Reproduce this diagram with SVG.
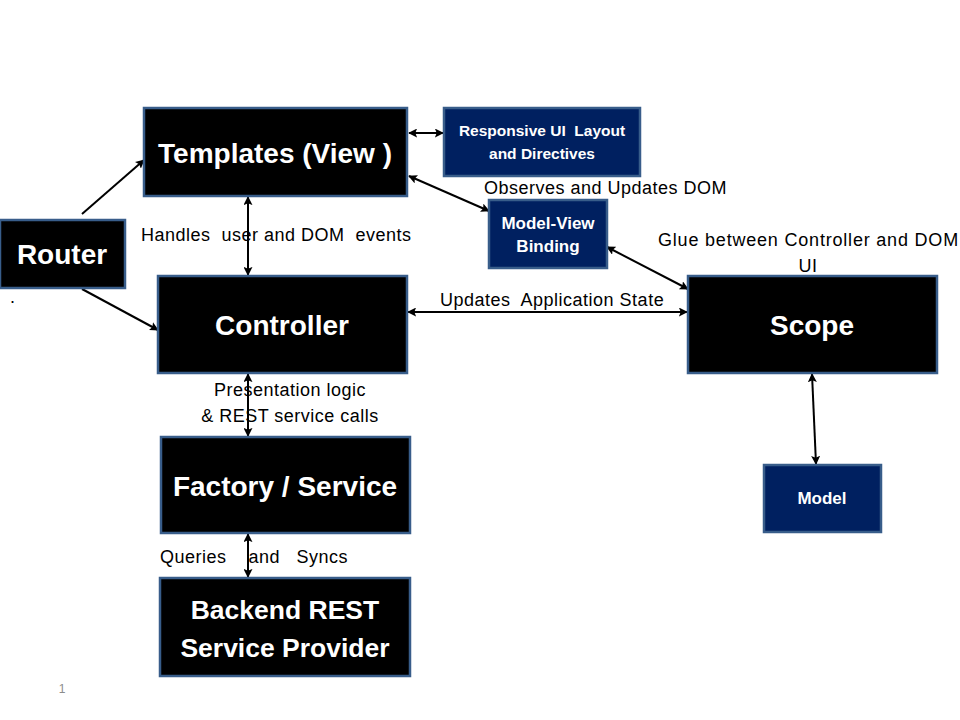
<svg xmlns="http://www.w3.org/2000/svg" width="960" height="720" viewBox="0 0 960 720">
<defs>
<marker id="ah" viewBox="0 0 10 10" refX="9" refY="5" markerWidth="9" markerHeight="9" markerUnits="userSpaceOnUse" orient="auto-start-reverse">
<path d="M0,0 L10,5 L0,10 L2,5 Z" fill="#000"/>
</marker>
<style>
.blk{fill:#000;stroke:#385d8a;stroke-width:2.5}
.nav{fill:#002060;stroke:#385d8a;stroke-width:2.5}
.big{font-family:"Liberation Sans",Arial,sans-serif;font-weight:bold;fill:#fff;text-anchor:middle;font-size:28px}
.sm{font-family:"Liberation Sans",Arial,sans-serif;font-weight:bold;fill:#fff;text-anchor:middle;font-size:17px}
.lbl{font-family:"Liberation Sans",Arial,sans-serif;fill:#000;font-size:18px;white-space:pre;letter-spacing:0.5px}
.con{stroke:#000;stroke-width:2;fill:none;marker-end:url(#ah)}
.dbl{marker-start:url(#ah)}
</style>
</defs>
<rect width="960" height="720" fill="#fff"/>
<g id="connectors">
<line class="con" x1="82" y1="214" x2="144" y2="160"/>
<line class="con" x1="82" y1="289" x2="158" y2="330"/>
<line class="con dbl" x1="248" y1="197" x2="248" y2="275"/>
<line class="con dbl" x1="409" y1="133" x2="443" y2="133"/>
<line class="con dbl" x1="409" y1="176" x2="489" y2="211"/>
<line class="con dbl" x1="607" y1="247" x2="688" y2="289"/>
<line class="con dbl" x1="408" y1="312" x2="687" y2="312"/>
<line class="con dbl" x1="248" y1="374" x2="248" y2="436"/>
<line class="con dbl" x1="248" y1="534" x2="248" y2="577"/>
<line class="con dbl" x1="812" y1="374" x2="816" y2="464"/>
</g>
<g id="templates">
<rect class="blk" x="144" y="108" width="263" height="88"/>
<text class="big" x="275" y="163">Templates (View )</text>
</g>
<g id="responsive">
<rect class="nav" x="444" y="108" width="196" height="68"/>
<text class="sm" x="542" y="136" style="white-space:pre;font-size:15.5px">Responsive UI  Layout</text>
<text class="sm" x="542" y="159" style="font-size:15.5px">and Directives</text>
</g>
<g id="router">
<rect class="blk" x="0" y="220" width="125" height="68"/>
<text class="big" x="62" y="264">Router</text>
</g>
<g id="modelview">
<rect class="nav" x="489" y="200" width="118" height="68"/>
<text class="sm" x="548" y="229">Model-View</text>
<text class="sm" x="548" y="252">Binding</text>
</g>
<g id="controller">
<rect class="blk" x="158" y="276" width="249" height="97"/>
<text class="big" x="282" y="335">Controller</text>
</g>
<g id="scope">
<rect class="blk" x="688" y="276" width="249" height="97"/>
<text class="big" x="812" y="335">Scope</text>
</g>
<g id="factory">
<rect class="blk" x="161" y="437" width="249" height="96"/>
<text class="big" x="285" y="496">Factory / Service</text>
</g>
<g id="backend">
<rect class="blk" x="160" y="578" width="250" height="98"/>
<text class="big" x="285" y="619" style="font-size:26.5px">Backend REST</text>
<text class="big" x="285" y="657" style="font-size:26.5px">Service Provider</text>
</g>
<g id="model">
<rect class="nav" x="764" y="465" width="117" height="67"/>
<text class="sm" x="822" y="504">Model</text>
</g>
<g id="labels">
<text class="lbl" x="141" y="241">Handles  user and DOM  events</text>
<text class="lbl" x="484" y="194">Observes and Updates DOM</text>
<text class="lbl" x="658" y="246" style="letter-spacing:0.8px">Glue between Controller and DOM</text>
<text class="lbl" x="808" y="272" text-anchor="middle">UI</text>
<text class="lbl" x="440" y="306">Updates  Application State</text>
<text class="lbl" x="290" y="396" text-anchor="middle">Presentation logic</text>
<text class="lbl" x="290" y="422" text-anchor="middle">&amp; REST service calls</text>
<text class="lbl" x="160" y="563">Queries    and   Syncs</text>
<text class="lbl" x="10" y="303">.</text>
<text x="62" y="693" font-family="Liberation Sans,Arial,sans-serif" font-size="12" fill="#8c8c8c" text-anchor="middle">1</text>
</g>
</svg>
